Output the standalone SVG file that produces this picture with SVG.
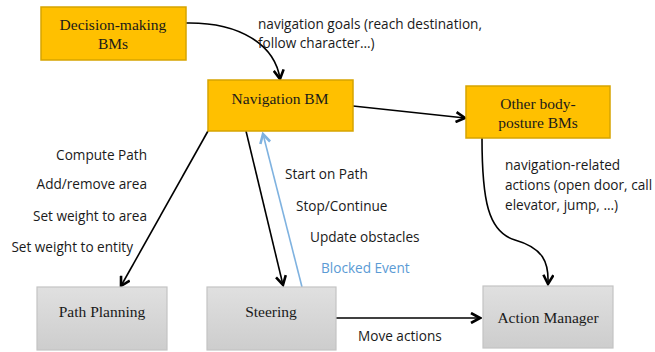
<svg xmlns="http://www.w3.org/2000/svg" width="655" height="352" viewBox="0 0 655 352">
<style>
.y{fill:#ffc000;stroke:#d6a400;stroke-width:1.5}
.g{fill:url(#gg);stroke:#c4c4c4;stroke-width:1.2}
.t{font-family:'Liberation Serif','Times New Roman','DejaVu Serif',serif;font-size:15.5px;fill:#1a1a1a;text-anchor:middle}
.l{font-family:'Open Sans','Liberation Sans',sans-serif;font-size:13.6px;fill:#1a1a1a}
.r{text-anchor:end}
.b{fill:#5b9bd5}
.c{fill:none;stroke:#000;stroke-width:1.6}
</style>
<defs>
<linearGradient id="gg" x1="0" y1="0" x2="0" y2="1">
<stop offset="0" stop-color="#e0e0e0"/><stop offset="1" stop-color="#cdcdcd"/>
</linearGradient>
<marker id="a" viewBox="0 0 12 12" refX="10" refY="6" markerWidth="12" markerHeight="12" markerUnits="userSpaceOnUse" orient="auto">
<path d="M1,1 L10,6 L1,11" fill="none" stroke="#000" stroke-width="2.6"/>
</marker>
<marker id="ab" viewBox="0 0 12 12" refX="10" refY="6" markerWidth="12" markerHeight="12" markerUnits="userSpaceOnUse" orient="auto">
<path d="M1,1 L10,6 L1,11" fill="none" stroke="#7fb2e0" stroke-width="2.6"/>
</marker>
</defs>
<g id="connectors">
<path class="c" d="M186,23 C240,22 275,45 280,79" marker-end="url(#a)"/>
<path class="c" d="M353,106 L465,118" marker-end="url(#a)"/>
<path class="c" d="M208,131 L121,286" marker-end="url(#a)"/>
<path class="c" d="M246,131 L283,285" marker-end="url(#a)"/>
<path d="M302,287 L263,134" fill="none" stroke="#7fb2e0" stroke-width="1.6" marker-end="url(#ab)"/>
<path class="c" d="M482,138 C482,200 488,232 515,240 C543,248 549,262 548,284" marker-end="url(#a)"/>
<path class="c" d="M336,318 L480,318" marker-end="url(#a)"/>
</g>
<g id="decision"><rect class="y" x="41" y="7" width="145" height="53"/>
<text class="t" x="113" y="30">Decision-making</text><text class="t" x="113" y="49">BMs</text></g>
<g id="navigation"><rect class="y" x="208" y="80" width="145" height="51"/>
<text class="t" x="280" y="104">Navigation BM</text></g>
<g id="other"><rect class="y" x="466" y="86" width="144" height="52"/>
<text class="t" x="538" y="109">Other body-</text><text class="t" x="538" y="128">posture BMs</text></g>
<g id="pathplanning"><rect class="g" x="37" y="287" width="130" height="63"/>
<text class="t" x="102" y="317">Path Planning</text></g>
<g id="steering"><rect class="g" x="207" y="287" width="129" height="63"/>
<text class="t" x="271" y="317">Steering</text></g>
<g id="actionmanager"><rect class="g" x="483" y="286" width="130" height="62"/>
<text class="t" x="548" y="323">Action Manager</text></g>
<g id="labels">
<text class="l" x="258" y="29">navigation goals (reach destination,</text>
<text class="l" x="258" y="48">follow character…)</text>
<text class="l r" x="147" y="160">Compute Path</text>
<text class="l r" x="147" y="189">Add/remove area</text>
<text class="l r" x="147" y="221">Set weight to area</text>
<text class="l r" x="133" y="252">Set weight to entity</text>
<text class="l" x="285" y="179">Start on Path</text>
<text class="l" x="296" y="211">Stop/Continue</text>
<text class="l" x="310" y="242">Update obstacles</text>
<text class="l b" x="321" y="273">Blocked Event</text>
<text class="l" x="505" y="170">navigation-related</text>
<text class="l" x="505" y="190">actions (open door, call</text>
<text class="l" x="505" y="210">elevator, jump, …)</text>
<text class="l" x="358" y="341">Move actions</text>
</g>
</svg>
